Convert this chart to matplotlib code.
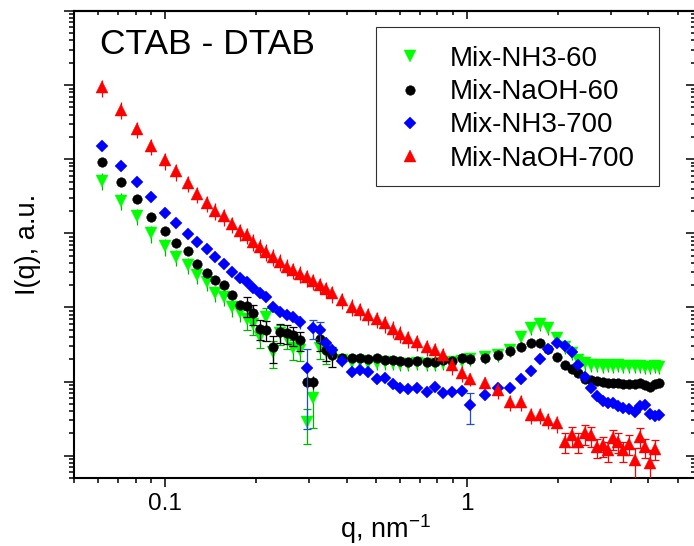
import numpy as np
import matplotlib
matplotlib.use('Agg')
import matplotlib.pyplot as plt
from matplotlib import ticker
from matplotlib.patches import Rectangle

plt.rcParams['font.family'] = ['Liberation Sans', 'DejaVu Sans']
plt.rcParams['mathtext.fontset'] = 'custom'
plt.rcParams['mathtext.rm'] = 'Liberation Sans'
plt.rcParams['mathtext.it'] = 'Liberation Sans:italic'
plt.rcParams['mathtext.default'] = 'regular'

# ---------------- data ----------------
q = [0.0617, 0.0713, 0.0809, 0.0903, 0.100, 0.109, 0.119, 0.128, 0.138, 0.147,
     0.157, 0.167, 0.177, 0.187, 0.196, 0.207, 0.217, 0.229, 0.241, 0.253,
     0.266, 0.280, 0.295, 0.310, 0.326, 0.341, 0.357, 0.385, 0.416, 0.443,
     0.472, 0.503, 0.536, 0.571, 0.601, 0.640, 0.683, 0.737, 0.785, 0.836,
     0.892, 0.962, 1.025, 1.150, 1.273, 1.39, 1.51, 1.63, 1.75, 1.865,
     1.988, 2.118, 2.228, 2.344, 2.466, 2.582, 2.697, 2.824, 2.946, 3.06,
     3.18, 3.30, 3.45, 3.60, 3.75, 3.90, 4.05, 4.20, 4.35]

nh3_60 = [5.15e3, 2.76e3, 1.72e3, 1.0e3, 665, 481, 375, 275, 221, 156,
          139, 100, 85.6, 70, 59.8, 40.3, 74.5, 25.3, 44.6, 38.7,
          28.1, 26.7, 2.86, 5.93, 28.4, 25, 22.8, 19.5, 18.4, 18.9,
          17.8, 17.8, 18.1, 17.8, 17.5, 17.2, 17.8, 17.5, 17.2, 17.8,
          18.4, 19.2, 20.1, 21.6, 22.8, 26.7, 40.3, 52.4, 59.8, 52.4,
          38.4, 29.5, 24.1, 19.5, 17.6, 16.7, 16.7, 16.4, 16.7, 16.4,
          16.7, 16.2, 16.4, 16.2, 16.2, 15.9, 15.9, 16.2, 15.9]
nh3_60_rel = [0.25, 0.25, 0.25, 0.25, 0.25, 0.25, 0.25, 0.25, 0.25, 0.25,
              0.25, 0.25, 0.25, 0.3, 0.3, 0.3, 0.3, 0.4, 0.3, 0.3,
              0.3, 0.3, 0.5, 0.6, 0.3, 0.3, 0.2, 0.2, 0.2, 0.2,
              0.2, 0.2, 0.2, 0.2, 0.2, 0.2, 0.2, 0.2, 0.2, 0.2,
              0.2, 0.2, 0.2, 0.2, 0.2, 0.2, 0.2, 0.2, 0.2, 0.2,
              0.2, 0.2, 0.2, 0.2, 0.2, 0.2, 0.2, 0.2, 0.2, 0.2,
              0.2, 0.2, 0.2, 0.2, 0.2, 0.2, 0.2, 0.2, 0.2]

naoh_60 = [9.2e3, 4.86e3, 2.87e3, 1.66e3, 1.09e3, 737, 580, 387, 290, 235,
           201, 148, 108, 105, 83, 52, 50, 29.5, 46.7, 45.2,
           42.5, 36.4, 9.94, 9.94, 37.2, 26.7, 22.8, 21.1, 20.5, 20.5,
           20.1, 20.5, 19.8, 19.5, 18.9, 18.6, 19.2, 18.5, 18.6, 19.5,
           19.2, 20.8, 20.1, 20.8, 22.5, 25.8, 29.5, 32.8, 32.8, 27.5,
           21.6, 16.7, 14.8, 12.9, 11.0, 10.5, 10.2, 10.0, 9.7, 9.55,
           9.46, 9.25, 9.25, 9.25, 9.63, 8.97, 8.35, 9.25, 9.55]
naoh_60_rel = [0.1, 0.1, 0.1, 0.1, 0.1, 0.1, 0.1, 0.1, 0.1, 0.1,
               0.1, 0.1, 0.1, 0.3, 0.3, 0.3, 0.3, 0.4, 0.3, 0.3,
               0.3, 0.3, 0.2, 0.2, 0.3, 0.3, 0.3, 0.1, 0.1, 0.1,
               0.1, 0.1, 0.1, 0.1, 0.1, 0.1, 0.1, 0.1, 0.1, 0.1,
               0.1, 0.1, 0.1, 0.1, 0.1, 0.1, 0.1, 0.1, 0.1, 0.1,
               0.1, 0.1, 0.1, 0.1, 0.1, 0.1, 0.1, 0.1, 0.1, 0.1,
               0.1, 0.1, 0.1, 0.1, 0.1, 0.1, 0.1, 0.1, 0.1]

nh3_700 = [1.52e4, 8.0e3, 4.92e3, 3.08e3, 1.91e3, 1.37e3, 985, 760, 618, 486,
           387, 305, 248, 223, 182, 157, 139, 102.5, 87.7, 79.2,
           74.5, 63.7, 15.1, 52.8, 49.6, 33.1, 26.7, 18.9, 13.6, 14.3,
           13.4, 10.8, 11.3, 9.25, 8.1, 7.92, 8.3, 7.21, 8.43, 7.0,
           7.21, 7.44, 4.81, 6.57, 8.1, 8.3, 10.8, 13.9, 20.1, 27.5,
           33.1, 30.2, 25, 16.7, 11.5, 8.17, 6.37, 5.45, 5.12, 5.08,
           4.67, 4.38, 4.32, 3.87, 4.67, 4.81, 3.64, 3.42, 3.5]
nh3_700_rel = [0.1, 0.1, 0.1, 0.1, 0.1, 0.1, 0.1, 0.1, 0.1, 0.1,
               0.1, 0.1, 0.1, 0.1, 0.1, 0.1, 0.1, 0.1, 0.1, 0.1,
               0.1, 0.2, 0.85, 0.3, 0.3, 0.2, 0.2, 0.1, 0.1, 0.1,
               0.1, 0.1, 0.1, 0.1, 0.1, 0.1, 0.1, 0.1, 0.1, 0.1,
               0.1, 0.1, 0.45, 0.1, 0.1, 0.1, 0.1, 0.1, 0.1, 0.1,
               0.1, 0.1, 0.1, 0.1, 0.1, 0.1, 0.1, 0.1, 0.1, 0.1,
               0.1, 0.1, 0.1, 0.1, 0.1, 0.1, 0.1, 0.1, 0.1]

naoh_700 = [9.3e4, 4.67e4, 2.56e4, 1.52e4, 9.64e3, 6.84e3, 4.77e3, 3.42e3, 2.55e3, 2.03e3,
            1.69e3, 1.34e3, 1.06e3, 955, 775, 663, 568, 486, 416, 355,
            318, 287, 254, 228, 201, 178, 155, 126, 102.5, 91,
            78, 70.3, 60.8, 52, 44.5, 38.2, 34.4, 29.3, 26.4, 22.8,
            16.5, 13.0, 10.8, 9.7, 7.68, 5.33, 5.33, 3.53, 3.53, 3.02,
            2.72, 1.54, 1.89, 1.54, 2.0, 1.89, 1.31, 1.39, 1.19, 1.71,
            1.54, 1.19, 1.46, 0.87, 1.80, 1.31, 0.785, 1.25, np.nan]
naoh_700_rel = [0.25, 0.25, 0.25, 0.25, 0.25, 0.25, 0.25, 0.25, 0.25, 0.25,
                0.25, 0.25, 0.25, 0.25, 0.25, 0.25, 0.25, 0.25, 0.25, 0.25,
                0.25, 0.25, 0.25, 0.25, 0.25, 0.25, 0.25, 0.25, 0.25, 0.25,
                0.25, 0.25, 0.25, 0.25, 0.25, 0.25, 0.25, 0.25, 0.25, 0.25,
                0.25, 0.25, 0.2, 0.2, 0.25, 0.25, 0.25, 0.25, 0.25, 0.25,
                0.25, 0.3, 0.3, 0.3, 0.3, 0.3, 0.3, 0.3, 0.3, 0.3,
                0.3, 0.3, 0.3, 0.45, 0.3, 0.3, 0.5, 0.3, 0.0]

labels = ['Mix-NH3-60', 'Mix-NaOH-60', 'Mix-NH3-700', 'Mix-NaOH-700']
xticks = [0.1, 1]
xticklabels = ['0.1', '1']

# ---------------- figure ----------------
W, H = 694, 546
fig = plt.figure(figsize=(W / 100, H / 100), dpi=100)
ax = fig.add_axes([74 / W, 68 / H, 622 / W, 467 / H])

styles = [
    (nh3_60, nh3_60_rel, 'v', '#00ff00', '#00b400', 8.0),
    (naoh_60, naoh_60_rel, 'o', '#000000', '#000000', 6.9),
    (nh3_700, nh3_700_rel, 'D', '#0000ff', '#1f4fd0', 6.5),
    (naoh_700, naoh_700_rel, '^', '#ff0000', '#ff0000', 8.0),
]
qa = np.array(q)
for k, ((I, rel, m, c, ec, ms), lab) in enumerate(zip(styles, labels)):
    I = np.array(I, dtype=float)
    rel = np.array(rel)
    err = I * rel
    big = rel >= 0.28
    # small error bars: plain stems; large ones: with caps
    ax.errorbar(qa[~big], I[~big], yerr=err[~big], fmt='none', ecolor=ec,
                elinewidth=0.9, capsize=0, zorder=2 + 2 * k)
    ax.errorbar(qa[big], I[big], yerr=err[big], fmt='none', ecolor=ec,
                elinewidth=0.9, capsize=3, capthick=0.9, zorder=2 + 2 * k)
    ax.plot(qa, I, ls='none', marker=m, ms=ms, mfc=c, mec=c, mew=0.3,
            label=lab, zorder=3 + 2 * k)

ax.set_xscale('log')
ax.set_yscale('log')
ax.set_xlim(0.05, 5.75)
ax.set_ylim(0.5, 1e6)

subs = (2, 3, 4, 5, 6, 7, 8, 9)
ax.xaxis.set_major_locator(ticker.FixedLocator(xticks))
ax.xaxis.set_major_formatter(ticker.FixedFormatter(xticklabels))
ax.xaxis.set_minor_locator(ticker.LogLocator(base=10, subs=subs, numticks=30))
ax.xaxis.set_minor_formatter(ticker.NullFormatter())
ax.yaxis.set_major_locator(ticker.LogLocator(base=10, numticks=30))
ax.yaxis.set_minor_locator(ticker.LogLocator(base=10, subs=subs, numticks=30))
ax.yaxis.set_major_formatter(ticker.NullFormatter())
ax.yaxis.set_minor_formatter(ticker.NullFormatter())

ax.tick_params(axis='x', which='major', direction='out', length=6.5, width=1.1,
               labelsize=17.5, pad=4)
ax.tick_params(axis='x', which='minor', direction='out', length=3.4, width=1.1)
ax.tick_params(axis='y', which='major', direction='out', length=7.2, width=1.1)
ax.tick_params(axis='y', which='minor', direction='out', length=3.6, width=1.1)
for s in ax.spines.values():
    s.set_linewidth(1.5)

secx = ax.secondary_xaxis('top')
secx.xaxis.set_major_locator(ticker.FixedLocator(xticks))
secx.xaxis.set_major_formatter(ticker.NullFormatter())
secx.xaxis.set_minor_locator(ticker.LogLocator(base=10, subs=subs, numticks=30))
secx.xaxis.set_minor_formatter(ticker.NullFormatter())
secx.tick_params(which='major', direction='in', length=5.8, width=1.1)
secx.tick_params(which='minor', direction='in', length=3.2, width=1.1)
secx.spines['top'].set_linewidth(1.5)

secy = ax.secondary_yaxis('right')
secy.yaxis.set_major_locator(ticker.LogLocator(base=10, numticks=30))
secy.yaxis.set_major_formatter(ticker.NullFormatter())
secy.yaxis.set_minor_locator(ticker.LogLocator(base=10, subs=subs, numticks=30))
secy.yaxis.set_minor_formatter(ticker.NullFormatter())
secy.tick_params(which='major', direction='in', length=7, width=1.1)
secy.tick_params(which='minor', direction='in', length=3.5, width=1.1)

ax.set_xlabel('q, nm$^{-1}$', fontsize=19.5)
ax.set_ylabel('I(q), a.u.', fontsize=19.5)
ax.xaxis.set_label_coords(0.5, (478 - 512) / 467)
ax.yaxis.set_label_coords((41 - 74) / 622, 0.5)

# legend: frame drawn as an explicit rectangle, entries placed inside it
frame = Rectangle((376 / W, 1 - 186 / H), 283 / W, 159 / H, transform=fig.transFigure,
                  facecolor='white', edgecolor='#303030', linewidth=0.8,
                  clip_on=False, zorder=20)
ax.add_artist(frame)
leg = ax.legend(loc='upper left', bbox_to_anchor=(396 / W, 1 - 46 / H),
                bbox_transform=fig.transFigure, borderaxespad=0, frameon=False,
                fontsize=20, handlelength=1.0, handletextpad=0.94, borderpad=0,
                labelspacing=0.26, numpoints=1)
leg.set_zorder(21)

fig.text(100 / W, 1 - 54.5 / H, 'CTAB - DTAB', fontsize=25.5, ha='left', va='baseline')

fig.savefig('out.png', dpi=100)
